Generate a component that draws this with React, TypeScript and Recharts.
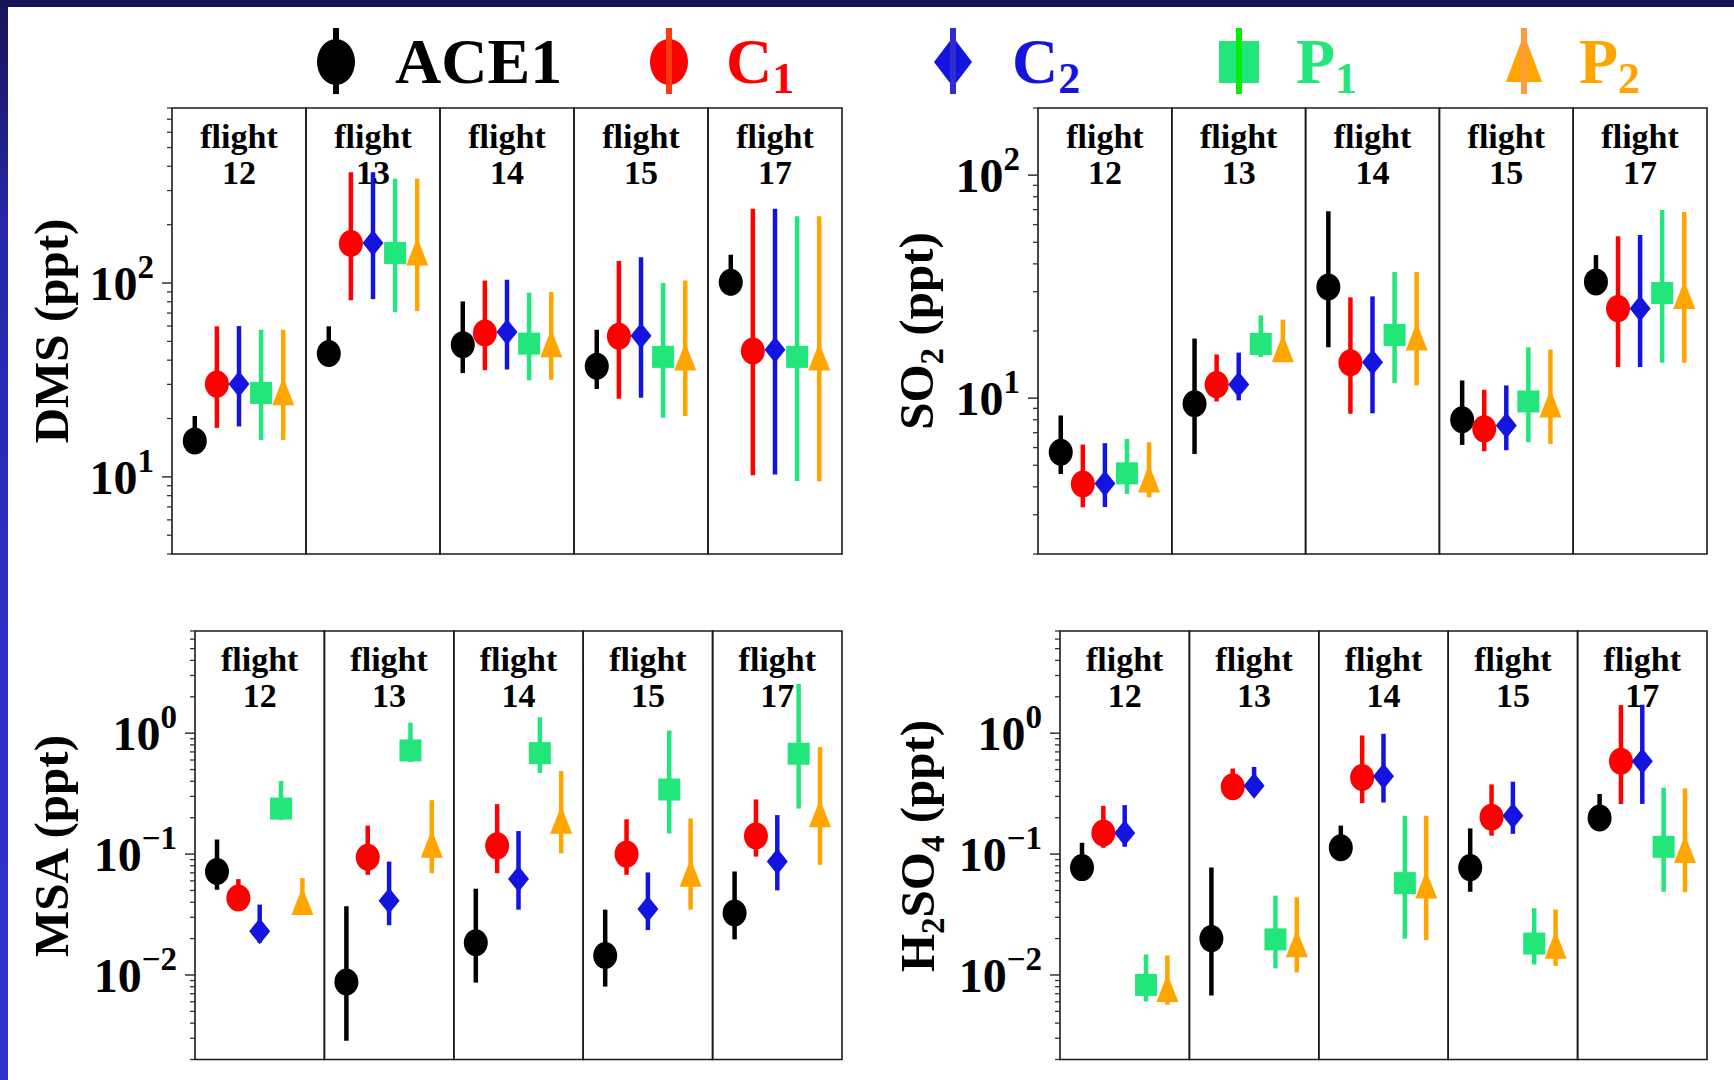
import React from 'react';
import { ScatterChart, Scatter, XAxis, YAxis, ErrorBar, ReferenceArea } from 'recharts';

// ---------- categories / series ----------
const flights = ['12', '13', '14', '15', '17'];
const seriesKeys = ['ACE1', 'C1', 'C2', 'P1', 'P2'];

// each entry per flight: [median, lower bound, upper bound]
// DMS (ppt)
const dmsACE1 = [[15.3, 13.5, 20.6], [43.3, 37.7, 59.8], [48.1, 34.3, 80.4], [37.2, 28.4, 57.4], [101, 86.4, 140]];
const dmsC1 = [[30.1, 17.9, 59.8], [160, 81.5, 373], [55.2, 35.5, 103], [53.1, 25.3, 130], [44.6, 10.2, 242]];
const dmsC2 = [[30.1, 18.2, 60], [161, 82.6, 373], [55.9, 35.8, 104], [53.5, 25.6, 136], [45.3, 10.3, 242]];
const dmsP1 = [[27.1, 15.5, 57.4], [143, 70.6, 345], [48.7, 31.5, 89.1], [41.6, 20.2, 100], [41.6, 9.53, 221]];
const dmsP2 = [[27, 15.5, 57.4], [142, 71.7, 345], [47.7, 31.7, 89.9], [40.8, 20.6, 103], [40.8, 9.5, 221]];

// SO2 (ppt)
const so2ACE1 = [[5.72, 4.57, 8.36], [9.44, 5.62, 18.5], [31.5, 16.9, 68.9], [8.0, 6.17, 12.0], [33.2, 29.4, 43.8]];
const so2C1 = [[4.12, 3.24, 6.19], [11.5, 9.66, 15.7], [14.4, 8.51, 28.3], [7.28, 5.78, 10.9], [25.2, 13.8, 53.2]];
const so2C2 = [[4.14, 3.25, 6.28], [11.5, 9.77, 16.0], [14.5, 8.55, 28.6], [7.54, 5.84, 11.4], [25.2, 13.8, 53.9]];
const so2P1 = [[4.6, 3.72, 6.56], [17.5, 15.3, 23.5], [19.2, 11.7, 36.8], [9.66, 6.34, 16.9], [29.6, 14.4, 69.7]];
const so2P2 = [[4.27, 3.59, 6.34], [16.4, 14.5, 22.5], [18.5, 11.4, 36.8], [9.27, 6.23, 16.5], [28.4, 14.4, 68.4]];

// MSA (ppt)
const msaACE1 = [[0.0718, 0.0507, 0.132], [0.00875, 0.00286, 0.037], [0.0185, 0.00865, 0.0517], [0.0145, 0.00802, 0.0347], [0.0326, 0.0197, 0.0718]];
const msaC1 = [[0.0433, 0.0358, 0.0621], [0.0942, 0.0674, 0.172], [0.117, 0.0695, 0.259], [0.1, 0.0674, 0.194], [0.141, 0.0953, 0.283]];
const msaC2 = [[0.023, 0.0185, 0.0382], [0.0412, 0.0258, 0.0867], [0.0621, 0.0347, 0.155], [0.0352, 0.0235, 0.0705], [0.0867, 0.0501, 0.21]];
const msaP1 = [[0.238, 0.191, 0.403], [0.72, 0.577, 1.22], [0.684, 0.469, 1.355], [0.342, 0.148, 1.05], [0.676, 0.238, 2.55]];
const msaP2 = [[0.0394, 0.036, 0.0633], [0.117, 0.0695, 0.279], [0.185, 0.1016, 0.486], [0.0674, 0.0347, 0.197], [0.21, 0.0815, 0.767]];

// H2SO4 (ppt)
const h2so4ACE1 = [[0.0773, 0.064, 0.124], [0.02, 0.00678, 0.0773], [0.1127, 0.0964, 0.172], [0.0773, 0.0488, 0.163], [0.1986, 0.17, 0.314]];
const h2so4C1 = [[0.1496, 0.1127, 0.2506], [0.361, 0.308, 0.51], [0.43, 0.2635, 0.957], [0.202, 0.142, 0.377], [0.586, 0.259, 1.706]];
const h2so4C2 = [[0.1496, 0.115, 0.254], [0.368, 0.318, 0.526], [0.441, 0.267, 0.988], [0.2075, 0.147, 0.397], [0.586, 0.26, 1.72]];
const h2so4P1 = [[0.00828, 0.00604, 0.01477], [0.0197, 0.01135, 0.0453], [0.0575, 0.02, 0.2075], [0.0182, 0.0122, 0.0356], [0.1148, 0.0488, 0.354]];
const h2so4P2 = [[0.00753, 0.00568, 0.0145], [0.0176, 0.0105, 0.0439], [0.054, 0.0194, 0.2075], [0.0171, 0.0119, 0.0348], [0.106, 0.0484, 0.35]];

// ---------- styles ----------
const FONT = '"Liberation Serif", "DejaVu Serif", "Times New Roman", serif';
const seriesColors: Record<string, string> = { ACE1: '#000000', C1: '#ff0000', C2: '#1414e0', P1: '#22e67a', P2: '#ffa500' };
const legendLineColors: Record<string, string> = { ACE1: '#000000', C1: '#ff3a10', C2: '#2c2cd0', P1: '#00ee00', P2: '#ff9a40' };
const seriesDodge = [-0.33, -0.165, 0, 0.165, 0.33];

function buildSeries(rows: number[][], j: number) {
  return rows.map((r, i) => ({ x: i + seriesDodge[j], y: r[0], err: [r[0] - r[1], r[2] - r[0]] }));
}

function logTicks(min: number, max: number) {
  const out: number[] = [];
  for (let e = Math.floor(Math.log10(min)); e <= Math.ceil(Math.log10(max)); e++) {
    for (let m = 1; m <= 9; m++) {
      const v = parseFloat((m * Math.pow(10, e)).toPrecision(6));
      if (v >= min * 0.999 && v <= max * 1.001) out.push(v);
    }
  }
  return out;
}

function makeShape(key: string) {
  const color = seriesColors[key];
  return (props: any) => {
    const { cx, cy } = props;
    if (cx == null || cy == null) return <g />;
    if (key === 'ACE1' || key === 'C1') return <ellipse cx={cx} cy={cy} rx={12} ry={13.5} fill={color} />;
    if (key === 'C2') return <polygon points={`${cx},${cy - 13} ${cx + 10.5},${cy} ${cx},${cy + 13} ${cx - 10.5},${cy}`} fill={color} />;
    if (key === 'P1') return <rect x={cx - 11} y={cy - 11} width={22} height={22} fill={color} />;
    return <polygon points={`${cx},${cy - 16} ${cx + 11},${cy + 12} ${cx - 11},${cy + 12}`} fill={color} />;
  };
}

const LogTick = (props: any) => {
  const { x, y, payload } = props;
  const lg = Math.log10(payload.value);
  const e = Math.round(lg);
  const major = Math.abs(lg - e) < 1e-6;
  if (!major) return <line x1={x - 5} x2={x} y1={y} y2={y} stroke="#333" strokeWidth={1.3} />;
  return (
    <g>
      <line x1={x - 10} x2={x} y1={y} y2={y} stroke="#333" strokeWidth={1.5} />
      <text x={x - 18} y={y + 17} textAnchor="end" fontFamily={FONT} fontWeight="bold" fontSize={48} fill="#000">
        10<tspan dy={-22} fontSize={33}>{e < 0 ? '\u2212' + -e : String(e)}</tspan>
      </text>
    </g>
  );
};

const FlightTick = (props: any) => {
  const { x, y, payload } = props;
  const label = flights[Math.round(payload.value)];
  return (
    <g>
      <text x={x} y={y + 40} textAnchor="middle" fontFamily={FONT} fontWeight="bold" fontSize={34} fill="#000">flight</text>
      <text x={x} y={y + 76} textAnchor="middle" fontFamily={FONT} fontWeight="bold" fontSize={34} fill="#000">{label}</text>
    </g>
  );
};

type PanelProps = {
  left: number; top: number; width: number; height: number;
  margin: { top: number; right: number; bottom: number; left: number };
  domain: [number, number];
  rows: number[][][];
};

function Panel({ left, top, width, height, margin, domain, rows }: PanelProps) {
  const ticks = logTicks(domain[0], domain[1]);
  return (
    <div style={{ position: 'absolute', left, top, width, height }}>
      <ScatterChart width={width} height={height} margin={{ ...margin, top: margin.top - 1 }}>
        <XAxis
          xAxisId={0}
          type="number"
          dataKey="x"
          orientation="top"
          domain={[-0.5, 4.5]}
          ticks={[0, 1, 2, 3, 4]}
          interval={0}
          height={1}
          axisLine={false}
          tickLine={false}
          tickSize={0}
          tickMargin={0}
          tick={<FlightTick />}
          allowDataOverflow
        />
        <YAxis
          yAxisId={0}
          type="number"
          dataKey="y"
          scale="log"
          domain={domain}
          allowDataOverflow
          ticks={ticks}
          interval={0}
          width={100}
          axisLine={false}
          tickLine={false}
          tickSize={0}
          tickMargin={0}
          tick={<LogTick />}
        />
        {flights.map((f, i) => (
          <ReferenceArea key={f} x1={i - 0.5} x2={i + 0.5} fill="none" fillOpacity={0} stroke="#1a1a1a" strokeWidth={1.6} ifOverflow="visible" />
        ))}
        {seriesKeys.map((k, j) => (
          <Scatter key={k} name={k} data={buildSeries(rows[j], j)} shape={makeShape(k)} isAnimationActive={false}>
            <ErrorBar dataKey="err" direction="y" width={0} stroke={seriesColors[k]} strokeWidth={4.5} isAnimationActive={false} />
          </Scatter>
        ))}
      </ScatterChart>
    </div>
  );
}

function LegendMarker({ k, cx }: { k: string; cx: number }) {
  const c = seriesColors[k];
  const cy = 62;
  let shape: React.ReactNode;
  if (k === 'ACE1' || k === 'C1') shape = <ellipse cx={cx} cy={cy} rx={19} ry={23} fill={c} />;
  else if (k === 'C2') shape = <polygon points={`${cx},${cy - 25} ${cx + 19},${cy} ${cx},${cy + 25} ${cx - 19},${cy}`} fill={c} />;
  else if (k === 'P1') shape = <rect x={cx - 20} y={cy - 21} width={40} height={42} fill={c} />;
  else shape = <polygon points={`${cx},${cy - 28} ${cx + 18},${cy + 20} ${cx - 18},${cy + 20}`} fill={c} />;
  return (
    <g>
      {shape}
      <line x1={cx} x2={cx} y1={28} y2={94} stroke={legendLineColors[k]} strokeWidth={6} />
    </g>
  );
}

const legendItems = [
  { k: 'ACE1', mx: 336, tx: 395, main: 'ACE1', sub: '' },
  { k: 'C1', mx: 669, tx: 726, main: 'C', sub: '1' },
  { k: 'C2', mx: 953, tx: 1012, main: 'C', sub: '2' },
  { k: 'P1', mx: 1239, tx: 1296, main: 'P', sub: '1' },
  { k: 'P2', mx: 1524, tx: 1579, main: 'P', sub: '2' },
];

function AxisTitle({ cx, cy, parts }: { cx: number; cy: number; parts: { t: string; sub?: boolean }[] }) {
  return (
    <text transform={`translate(${cx + 16},${cy}) rotate(-90)`} textAnchor="middle" fontFamily={FONT} fontWeight="bold" fontSize={49} fill="#000">
      {parts.map((p, i) =>
        p.sub ? (
          <tspan key={i} fontSize={33} dy={10}>{p.t}</tspan>
        ) : (
          <tspan key={i} dy={i > 0 && parts[i - 1].sub ? -10 : 0}>{p.t}</tspan>
        )
      )}
    </text>
  );
}

export default function App() {
  return (
    <div style={{ position: 'absolute', left: 0, top: 0, width: 1734, height: 1080, background: '#ffffff', overflow: 'hidden' }}>
      <div style={{ position: 'absolute', left: 0, top: 0, width: 1734, height: 7, background: '#161457' }} />
      <div style={{ position: 'absolute', left: 0, top: 0, width: 8, height: 1080, background: 'linear-gradient(#161457 0%, #2626a6 20%, #2f2fc6 60%, #3030cc 100%)' }} />

      <Panel left={0} top={0} width={870} height={590} margin={{ top: 108, right: 28, bottom: 36, left: 72 }} domain={[4, 800]}
        rows={[dmsACE1, dmsC1, dmsC2, dmsP1, dmsP2]} />
      <Panel left={870} top={0} width={864} height={590} margin={{ top: 108, right: 27, bottom: 36, left: 68 }} domain={[2, 200]}
        rows={[so2ACE1, so2C1, so2C2, so2P1, so2P2]} />
      <Panel left={0} top={590} width={870} height={490} margin={{ top: 41, right: 28, bottom: 20.5, left: 95 }} domain={[0.002, 7]}
        rows={[msaACE1, msaC1, msaC2, msaP1, msaP2]} />
      <Panel left={870} top={590} width={864} height={490} margin={{ top: 41, right: 27, bottom: 20.5, left: 90 }} domain={[0.002, 7]}
        rows={[h2so4ACE1, h2so4C1, h2so4C2, h2so4P1, h2so4P2]} />

      <svg style={{ position: 'absolute', left: 0, top: 0 }} width={1734} height={1080} pointerEvents="none">
        {legendItems.map((it) => (
          <g key={it.k}>
            <LegendMarker k={it.k} cx={it.mx} />
            <text x={it.tx} y={83} fontFamily={FONT} fontWeight="bold" fontSize={64} fill={seriesColors[it.k]}>
              {it.main}
              {it.sub ? <tspan fontSize={44} dy={10}>{it.sub}</tspan> : null}
            </text>
          </g>
        ))}
        <AxisTitle cx={52} cy={331} parts={[{ t: 'DMS (ppt)' }]} />
        <AxisTitle cx={917} cy={331} parts={[{ t: 'SO' }, { t: '2', sub: true }, { t: ' (ppt)' }]} />
        <AxisTitle cx={52} cy={846} parts={[{ t: 'MSA (ppt)' }]} />
        <AxisTitle cx={918} cy={846} parts={[{ t: 'H' }, { t: '2', sub: true }, { t: 'SO' }, { t: '4', sub: true }, { t: ' (ppt)' }]} />
      </svg>
    </div>
  );
}
